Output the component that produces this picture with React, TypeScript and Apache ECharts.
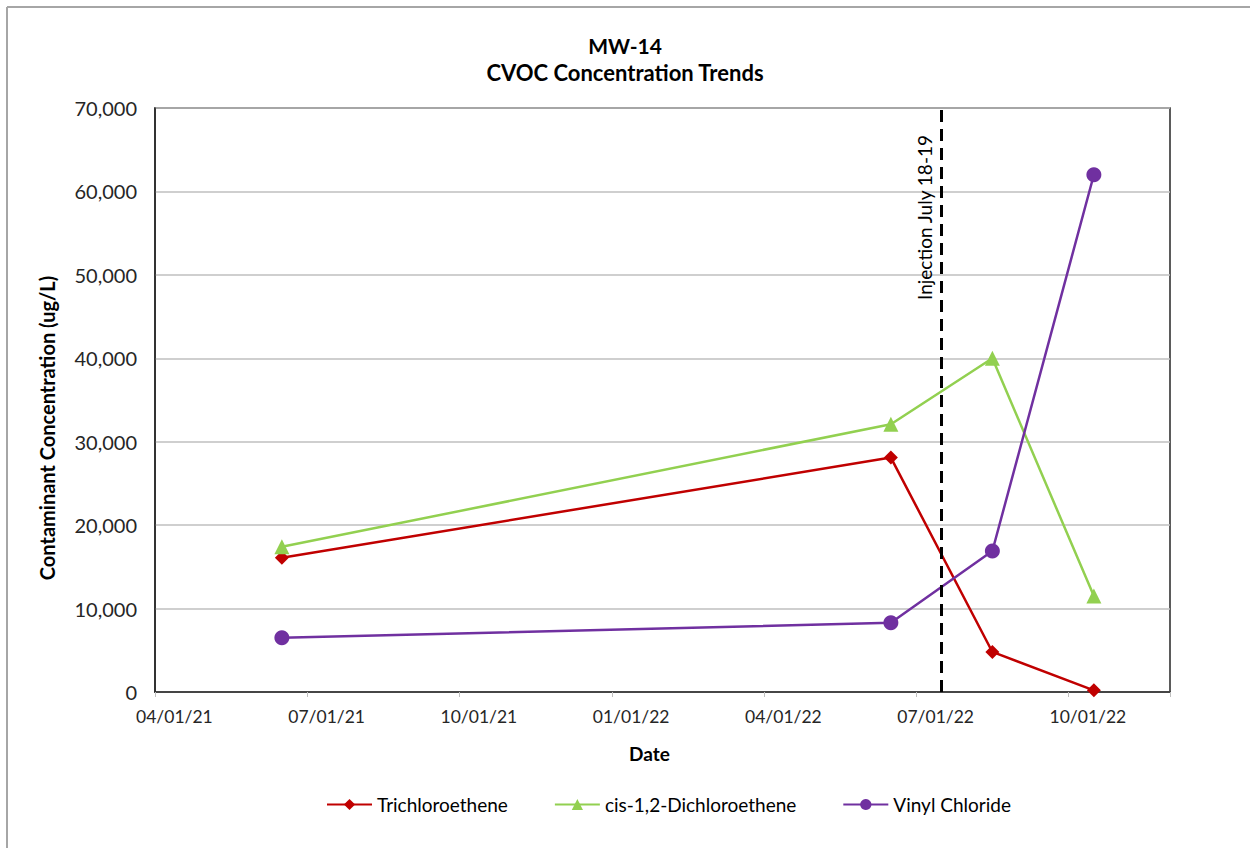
import React, { useEffect, useRef } from "react";
import * as echarts from "echarts";

// Excel date axis with base unit = months: one slot per month
const months = [
  "04/01/21", "05/01/21", "06/01/21", "07/01/21", "08/01/21", "09/01/21", "10/01/21", "11/01/21",
  "12/01/21", "01/01/22", "02/01/22", "03/01/22", "04/01/22", "05/01/22", "06/01/22", "07/01/22",
  "08/01/22", "09/01/22", "10/01/22", "11/01/22",
];
const sampleMonths = ["06/01/21", "06/01/22", "08/01/22", "10/01/22"];
const tceValues = [16100, 28100, 4800, 200];
const dceValues = [17400, 32100, 40000, 11500];
const vcValues = [6500, 8300, 16900, 62000];
const injectionMonth = "07/01/22";
const injectionLabel = "Injection July 18-19";
const seriesNames = ["Trichloroethene", "cis-1,2-Dichloroethene", "Vinyl Chloride"];
const yAxisTitle = "Contaminant Concentration (ug/L)";
const titleLines = ["MW-14", "CVOC Concentration Trends"];

const FONT = "Lato, 'Open Sans', sans-serif";

function pair(vals: number[]) {
  return sampleMonths.map((m, i) => [m, vals[i]]);
}

export default function App() {
  const ref = useRef<HTMLDivElement>(null);
  useEffect(() => {
    if (!ref.current) return;
    const chart = echarts.init(ref.current, undefined, { renderer: "svg" });
    chart.setOption({
      animation: false,
      backgroundColor: "#ffffff",
      textStyle: { fontFamily: FONT },
      title: [
        {
          text: titleLines[0],
          left: "center",
          top: 35,
          padding: 0,
          textStyle: { fontFamily: FONT, fontSize: 21, lineHeight: 21, fontWeight: "bold", color: "#000" },
        },
        {
          text: titleLines[1],
          left: "center",
          top: 61,
          padding: 0,
          textStyle: { fontFamily: FONT, fontSize: 22, lineHeight: 22, fontWeight: "bold", color: "#000" },
        },
      ],
      graphic: [
        { type: "line", shape: { x1: 7, y1: 7, x2: 1250, y2: 7 }, style: { stroke: "#a6a6a6", lineWidth: 2 } },
        { type: "line", shape: { x1: 7, y1: 7, x2: 7, y2: 848 }, style: { stroke: "#a6a6a6", lineWidth: 2 } },
        {
          type: "text",
          x: 47,
          y: 428,
          rotation: Math.PI / 2,
          style: {
            text: yAxisTitle,
            font: "bold 20px Lato, 'Open Sans', sans-serif",
            fill: "#000",
            align: "center",
            verticalAlign: "middle",
          },
        },
      ],
      legend: {
        top: 790,
        left: 321,
        itemGap: 46,
        itemWidth: 45,
        itemHeight: 14,
        textStyle: { fontFamily: FONT, fontSize: 19, color: "#000" },
        data: seriesNames,
      },
      grid: {
        left: 155,
        right: 80,
        top: 108,
        bottom: 156,
        show: true,
        borderColor: "#262626",
        borderWidth: 1.5,
      },
      xAxis: {
        type: "category",
        data: months,
        boundaryGap: true,
        name: "Date",
        nameLocation: "middle",
        nameGap: 52,
        nameTextStyle: { fontFamily: FONT, fontSize: 19, fontWeight: "bold", color: "#000", padding: [0, 26, 0, 0] },
        axisLine: { show: true, lineStyle: { color: "#262626", width: 1.5 } },
        axisTick: { show: true, interval: 2, alignWithLabel: false, length: 5, lineStyle: { color: "#bfbfbf" } },
        axisLabel: {
          interval: 2,
          fontFamily: FONT,
          fontSize: 17.5,
          color: "#262626",
          margin: 15,
          padding: [0, 12, 0, 0],
        },
        splitLine: { show: false },
      },
      yAxis: {
        type: "value",
        min: 0,
        max: 70000,
        interval: 10000,
        axisLine: { show: true, lineStyle: { color: "#262626", width: 1.5 } },
        axisTick: { show: false },
        axisLabel: {
          formatter: (v: number) => v.toLocaleString("en-US"),
          fontFamily: FONT,
          fontSize: 20,
          color: "#262626",
          margin: 18,
        },
        splitLine: { show: true, lineStyle: { color: "#bfbfbf", width: 1.5 } },
      },
      series: [
        {
          name: seriesNames[0],
          type: "line",
          data: pair(tceValues),
          symbol: "diamond",
          symbolSize: 14,
          lineStyle: { color: "#c00000", width: 2.5 },
          itemStyle: { color: "#c00000" },
          z: 3,
          markLine: {
            silent: true,
            symbol: "none",
            lineStyle: { color: "#000", width: 3, type: [12, 7] },
            label: {
              show: true,
              position: "insideEndTop",
              formatter: injectionLabel,
              fontFamily: FONT,
              fontSize: 19,
              color: "#000",
              distance: [27, 8],
            },
            data: [{ xAxis: injectionMonth }],
          },
        },
        {
          name: seriesNames[1],
          type: "line",
          data: pair(dceValues),
          symbol: "triangle",
          symbolSize: 15,
          lineStyle: { color: "#92d050", width: 2.5 },
          itemStyle: { color: "#92d050" },
          z: 3,
        },
        {
          name: seriesNames[2],
          type: "line",
          data: pair(vcValues),
          symbol: "circle",
          symbolSize: 15,
          lineStyle: { color: "#7030a0", width: 2.5 },
          itemStyle: { color: "#7030a0" },
          z: 3,
        },
      ],
    });
    return () => chart.dispose();
  }, []);
  return (
    <div
      ref={ref}
      style={{ position: "fixed", left: 0, top: 0, width: 1250, height: 848, background: "#fff" }}
    />
  );
}
